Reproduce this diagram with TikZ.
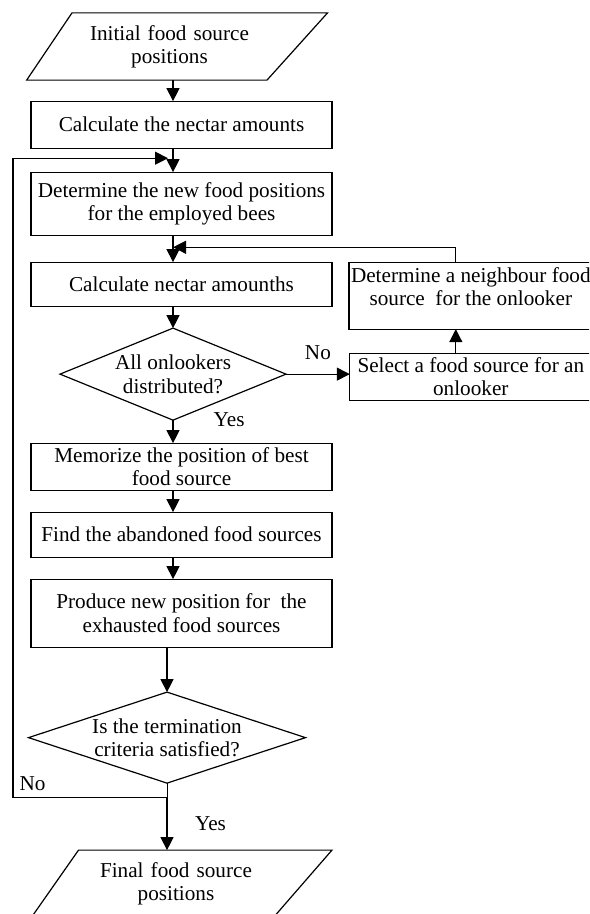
\documentclass[tikz,border=0pt]{standalone}
\usepackage{fontspec}
\setmainfont{Liberation Serif}
\usetikzlibrary{arrows.meta,shapes.geometric,positioning,calc}

\begin{document}
\begin{tikzpicture}[
    node distance=11pt,
    font=\fontsize{10.6}{11.7}\selectfont,
    every node/.style={outer sep=0pt},
    stepbox/.style={rectangle, draw, line width=0.6pt, minimum width=150.5pt, inner sep=2pt, align=center},
    sidebox/.style={rectangle, draw, line width=0.6pt, minimum width=121pt, inner sep=1pt, align=center},
    decision/.style={diamond, draw, line width=0.6pt, inner sep=0pt, align=center},
    io/.style={trapezium, draw, line width=0.6pt, trapezium left angle=56, trapezium right angle=132, text width=97.5pt, inner xsep=0pt, inner ysep=6.1pt, align=center},
    arrow/.style={line width=0.6pt, -{Triangle[length=6.5pt, width=6.5pt]}}
]
\path[use as bounding box, clip] (0pt,0pt) rectangle (294.5pt,-457pt);

% --- MAIN COLUMN ---
\node (init) [io] at (84.75pt,-23.25pt) {Initial food source\\positions};
\node (calc1) [stepbox, minimum height=23.5pt, below=10.5pt of init, xshift=6pt] {Calculate the nectar amounts};
\node (employ) [stepbox, minimum height=31.5pt, below=12pt of calc1] {Determine the new food positions\\for the employed bees};
\node (calc2) [stepbox, minimum height=22pt, below=13.5pt of employ] {Calculate nectar amounths};
\node (ons) [decision, minimum width=113pt, minimum height=46pt, aspect=2.45, below=11pt of calc2, xshift=-4.25pt] {All onlookers\\distributed?};
\node (memo) [stepbox, minimum height=23.5pt, below=11.5pt of ons, xshift=4.25pt] {Memorize the position of best\\food source};
\node (aband) [stepbox, minimum height=22.5pt, below=11pt of memo] {Find the abandoned food sources};
\node (produce) [stepbox, minimum height=34pt, below=11pt of aband] {Produce new position for\ \ the\\exhausted food sources};
\node (term) [decision, minimum width=138.5pt, minimum height=45.5pt, aspect=3, below=22.5pt of produce, xshift=-7.25pt] {Is the termination\\criteria satisfied?};
\node (final) [io, trapezium left angle=55, trapezium right angle=131, below=33.5pt of term, xshift=4.5pt] {Final food source\\positions};

% --- ONLOOKER BRANCH (right side) ---
\node (neigh) [sidebox, minimum height=33.5pt, text depth=9pt, below right=0pt and 8.5pt of calc2.north east] {Determine a neighbour food\\source\ \ for the onlooker};
\node (select) [sidebox, minimum height=23.5pt, below=12pt of neigh] {Select a food source for an\\onlooker};

% helper points where the loops come back in
\coordinate (merge1) at ($(calc1.south -| ons.north)!0.42!(employ.north -| ons.north)$);
\coordinate (merge2) at ($(employ.south -| ons.north)!0.45!(calc2.north -| ons.north)$);
\coordinate (nojoin) at ([yshift=-7pt]term.south);
\coordinate (rail) at (6.5pt,0pt);

% --- PATHS ---
\draw [arrow] (init.south -| ons.north) -- (calc1.north -| ons.north);
\draw [arrow] (calc1.south -| ons.north) -- (employ.north -| ons.north);
\draw [arrow] (employ.south -| ons.north) -- (calc2.north -| ons.north);
\draw [arrow] (calc2.south -| ons.north) -- (ons.north);
\draw [arrow] (ons.south) -- node[at start, right=17pt] {Yes} (memo.north -| ons.south);
\draw [arrow] (memo.south -| ons.north) -- (aband.north -| ons.north);
\draw [arrow] (aband.south -| ons.north) -- (produce.north -| ons.north);
\draw [arrow] (produce.south -| term.north) -- (term.north);

% onlooker loop
\draw [arrow] (ons.east) -- node[above=4pt] {No} (ons.east -| select.west);
\draw [arrow] ([xshift=-7.5pt]select.north) -- ([xshift=-7.5pt]neigh.south);
\draw [arrow] ([xshift=-7.5pt]neigh.north) |- (merge2);

% termination test
\draw (term.south) -- (nojoin);
\draw [arrow] (nojoin) -- node[midway, right=10.7pt] {Yes} (nojoin |- final.north);
\draw [arrow] (nojoin) -| node[pos=0.5, above right] {No} (rail |- merge1) -- ([xshift=-2.5pt]merge1);

\end{tikzpicture}
\end{document}
